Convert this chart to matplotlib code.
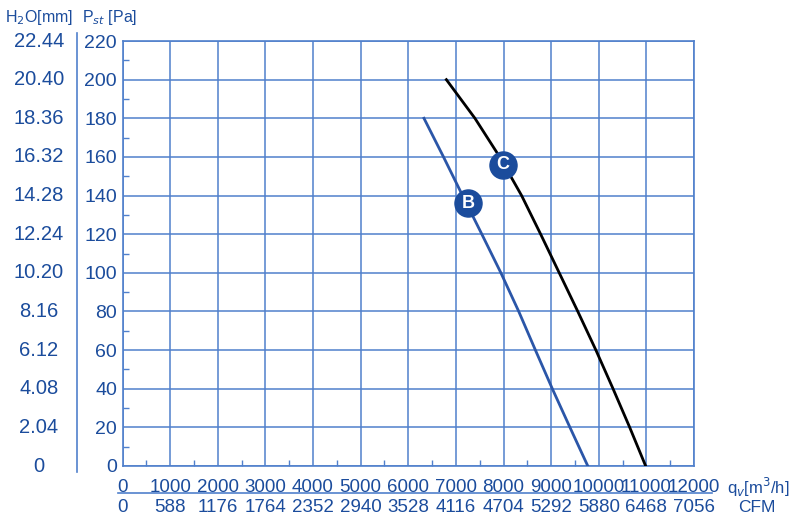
import numpy as np
import matplotlib
matplotlib.use('Agg')
import matplotlib.pyplot as plt
import matplotlib.transforms as mtransforms

# ── data ─────────────────────────────────────────────────
# curve B : flow q_v [m3/h] vs static pressure [Pa]
b_flow = [6330, 6740, 7140, 7545, 7945, 8320, 8670, 9025, 9395, 9770]
b_pres = [180, 160, 140, 120, 100, 80, 60, 40, 20, 0]
# curve C
c_flow = [6800, 7400, 7920, 8380, 8780, 9170, 9560, 9940, 10300, 10650, 10985]
c_pres = [200, 180, 160, 140, 120, 100, 80, 60, 40, 20, 0]

pa_ticks = [0, 20, 40, 60, 80, 100, 120, 140, 160, 180, 200, 220]
mm_labels = ['0', '2.04', '4.08', '6.12', '8.16', '10.20', '12.24',
             '14.28', '16.32', '18.36', '20.40', '22.44']
q_ticks = [0, 1000, 2000, 3000, 4000, 5000, 6000, 7000, 8000, 9000,
           10000, 11000, 12000]
cfm_labels = ['0', '588', '1176', '1764', '2352', '2940', '3528', '4116',
              '4704', '5292', '5880', '6468', '7056']

badges = [('B', 7250, 136), ('C', 7980, 156)]

TXT = '#1b4c9c'
GRID = '#5080cc'
LINE_B = '#2b56a8'
FONT = ['Liberation Sans', 'DejaVu Sans']

plt.rcParams['font.family'] = FONT

fig = plt.figure(figsize=(8, 5.16), dpi=100)
W, H = 800, 516
ax = fig.add_axes([122.5 / W, 1 - 466 / H, (694 - 122.5) / W, (466 - 41) / H])

ax.set_xlim(0, 12000)
ax.set_ylim(0, 220)

ax.set_xticks(q_ticks)
ax.set_xticklabels([str(q) for q in q_ticks])
ax.set_yticks(pa_ticks)
ax.set_yticklabels([str(p) for p in pa_ticks])
ax.set_xticks(np.array(q_ticks[:-1]) + 500, minor=True)
ax.set_yticks(np.array(pa_ticks[:-1]) + 10, minor=True)

ax.tick_params(which='major', length=0, labelsize=14, labelcolor=TXT)
ax.tick_params(axis='y', which='major', pad=4)
ax.tick_params(axis='x', which='major', pad=9, labelsize=13.5)
ax.tick_params(which='minor', direction='in', length=4, color=GRID, width=1)

ax.grid(True, which='major', color=GRID, lw=1.1)
for sp in ax.spines.values():
    sp.set_edgecolor(GRID)
    sp.set_linewidth(1.2)

ax.plot(b_flow, b_pres, color=LINE_B, lw=2, zorder=3)
ax.plot(c_flow, c_pres, color='black', lw=2, zorder=3)

for lab, x, y in badges:
    ax.scatter([x], [y], s=380, color=TXT, zorder=4)
    ax.text(x, y, lab, color='white', fontsize=13, fontweight='bold',
            ha='center', va='center', zorder=5)

# left H2O column
tr_left = mtransforms.blended_transform_factory(fig.transFigure, ax.transData)
for p, lab in zip(pa_ticks, mm_labels):
    ax.text(39 / W, p, lab, transform=tr_left, ha='center', va='center',
            fontsize=14.5, color=TXT, clip_on=False)

fig.add_artist(plt.Line2D([77 / W, 77 / W], [1 - 472 / H, 1 - 33 / H],
                          color=GRID, lw=1.2))

fig.text(5 / W, 1 - 17 / H, 'H$_2$O[mm]', fontsize=11.5, color=TXT,
         va='center', ha='left')
fig.text(82 / W, 1 - 17 / H, 'P$_{st}$ [Pa]', fontsize=11.5, color=TXT,
         va='center', ha='left')

# CFM row
tr_bot = mtransforms.blended_transform_factory(ax.transData, fig.transFigure)
for q, lab in zip(q_ticks, cfm_labels):
    ax.text(q, 1 - 507 / H, lab, transform=tr_bot, ha='center', va='center',
            fontsize=13.5, color=TXT, clip_on=False)

fig.add_artist(plt.Line2D([118 / W, 712 / W], [1 - 493 / H, 1 - 493 / H],
                          color=GRID, lw=1.2))

fig.text(727 / W, 1 - 487 / H, 'q$_v$[m$^3$/h]', fontsize=12, color=TXT,
         va='center', ha='left')
fig.text(738 / W, 1 - 507 / H, 'CFM', fontsize=12.5, color=TXT,
         va='center', ha='left')

fig.savefig('out.png', dpi=100, facecolor='white')
